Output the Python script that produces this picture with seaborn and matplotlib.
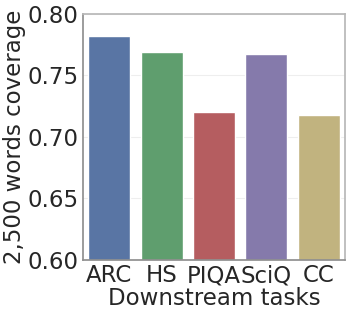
import pandas as pd
import matplotlib
matplotlib.use("Agg")
import matplotlib.pyplot as plt
import seaborn as sns

# Coverage of the 2,500 most common words per downstream task
tasks = ["ARC", "HS", "PIQA", "SciQ", "CC"]
coverage = [0.782, 0.769, 0.720, 0.767, 0.718]

df = pd.DataFrame({"task": tasks, "coverage": coverage})

sns.set_theme(style="whitegrid")
plt.rcParams["font.family"] = ["DejaVu Sans"]

fig, ax = plt.subplots(figsize=(3.51, 3.16), dpi=100)
sns.barplot(data=df, x="task", y="coverage", hue="task",
            palette=sns.color_palette("deep6"), legend=False, ax=ax)

ax.set_ylim(0.60, 0.80)
ax.set_yticks([0.60, 0.65, 0.70, 0.75, 0.80])
ax.set_xlabel("Downstream tasks", fontsize=16.5, labelpad=0)
ax.set_ylabel("2,500 words coverage", fontsize=16.5, labelpad=1)
ax.tick_params(axis="both", labelsize=16.5, length=0, pad=3)
ax.grid(axis="y", color="#eeeeee", linewidth=0.8)
ax.grid(axis="x", visible=False)
for side in ["left", "bottom"]:
    ax.spines[side].set_color("#909090")
for side in ["top", "right"]:
    ax.spines[side].set_color("#b8b8b8")

plt.subplots_adjust(left=0.2365, right=0.983, top=0.957, bottom=0.177)
plt.savefig("out.png", dpi=100)
